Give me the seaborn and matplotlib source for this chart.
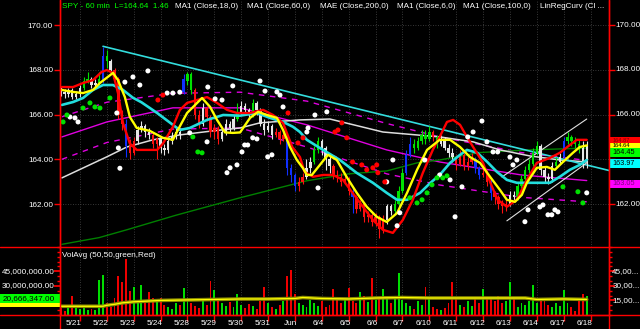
import numpy as np
import pandas as pd
import matplotlib
matplotlib.use("Agg")
import matplotlib.pyplot as plt
import seaborn as sns
from matplotlib.lines import Line2D
from matplotlib.patches import Rectangle
from matplotlib.ticker import MultipleLocator
from matplotlib.transforms import blended_transform_factory

# ---------------- data ----------------
day_labels = ["5/21", "5/22", "5/23", "5/24", "5/28", "5/29", "5/30", "5/31", "Jun", "6/4",
              "6/5", "6/6", "6/7", "6/10", "6/11", "6/12", "6/13", "6/14", "6/17", "6/18"]
day_starts = [5, 12, 19, 26, 33, 40, 47, 54, 61, 68, 75, 82, 89, 96, 103, 110, 117, 124, 131, 138]

open_ = [167.1,167.0,166.9,167.1,166.8,166.9,167.2,167.5,167.6,167.3,
 167.4,167.5,168.6,168.4,168.0,167.6,166.0,165.6,164.6,164.3,
 164.8,165.3,165.5,165.2,165.1,164.7,164.9,164.5,164.4,164.8,
 165.0,165.2,167.0,167.5,167.8,167.1,166.0,165.6,166.3,165.9,
 165.2,165.4,164.9,165.2,165.6,165.4,165.8,166.1,166.4,166.2,
 166.0,166.5,166.2,165.6,165.3,165.5,165.1,165.2,164.9,165.0,
 163.6,163.3,162.8,163.0,163.2,163.6,163.9,164.4,164.8,164.5,
 164.0,163.7,163.3,163.2,163.0,163.1,162.6,162.3,161.8,162.0,
 161.4,161.5,161.2,161.4,160.9,161.3,161.9,161.7,162.0,162.6,
 163.4,164.2,164.7,164.5,164.8,165.1,164.9,165.2,165.0,164.7,
 164.9,164.5,164.3,164.1,163.8,164.2,163.7,163.9,164.0,163.6,
 163.3,163.4,163.0,162.5,162.3,162.0,161.9,162.0,162.4,162.3,
 162.8,163.1,163.5,163.8,164.3,164.6,163.5,163.2,163.1,163.7,
 163.9,164.1,164.8,165.0,164.8,164.7,164.5,163.9]
high = [167.25,167.15,167.2,167.2,167.05,167.3,167.7,167.9,167.7,167.6,
 167.9,169.0,168.9,168.5,168.1,167.7,166.2,165.8,164.9,165.0,
 165.5,165.7,165.6,165.4,165.2,165.0,165.0,164.7,164.9,165.2,
 165.4,165.4,167.8,167.9,167.9,167.2,166.2,166.5,166.4,166.0,
 165.6,165.5,165.4,165.8,165.7,166.0,166.5,166.6,166.5,166.3,
 166.7,166.6,166.3,165.8,165.7,165.6,165.4,165.3,165.2,165.1,
 163.8,163.4,163.2,163.4,164.0,164.1,164.6,165.0,164.9,164.6,
 164.2,163.8,163.5,163.4,163.3,163.2,162.7,162.4,162.2,162.1,
 161.7,161.6,161.6,161.5,161.5,162.0,162.0,162.2,162.8,163.6,
 164.4,165.0,164.9,165.0,165.3,165.3,165.5,165.3,165.1,165.1,
 165.0,164.7,164.5,164.2,164.4,164.3,164.1,164.3,164.1,163.7,
 163.8,163.5,163.1,162.6,162.4,162.2,162.2,162.6,162.6,163.0,
 163.3,163.7,164.0,164.5,164.8,164.7,163.7,163.4,163.9,164.1,
 164.3,165.0,165.2,165.1,165.0,164.9,164.8,164.8]
low = [166.85,166.75,166.8,166.7,166.7,166.8,167.1,167.4,167.2,167.2,
 167.3,167.4,168.1,167.8,167.4,165.8,165.3,164.1,164.0,164.2,
 164.7,165.2,165.0,164.9,164.5,164.0,164.3,164.2,164.3,164.7,
 164.9,164.9,166.9,167.3,166.9,165.8,165.4,165.5,165.7,165.0,
 164.9,164.7,164.8,165.1,165.2,165.3,165.7,166.0,166.0,165.8,
 165.9,166.0,165.5,165.1,165.2,164.9,165.0,164.7,164.8,163.3,
 163.0,162.6,162.6,162.9,163.1,163.4,163.8,164.3,164.2,163.5,
 163.4,163.1,163.0,162.8,162.9,162.4,161.6,161.6,161.7,161.2,
 161.2,161.0,161.0,160.5,160.7,161.1,161.5,161.6,161.9,162.5,
 163.3,164.1,164.3,164.4,164.7,164.7,164.8,164.8,164.5,164.6,
 164.4,164.1,163.9,163.5,163.7,163.5,163.5,163.8,163.4,163.1,
 163.2,162.8,162.2,162.0,161.8,161.6,161.7,161.9,162.1,162.2,
 162.7,163.0,163.4,163.7,164.2,163.3,163.0,162.9,163.0,163.6,
 163.8,164.0,164.7,164.6,164.5,164.3,163.6,163.6]
close = [167.0,166.9,167.1,166.8,166.9,167.2,167.5,167.6,167.3,167.4,
 167.6,168.6,168.4,168.0,167.6,166.0,165.6,164.6,164.3,164.8,
 165.3,165.5,165.2,165.1,164.7,164.9,164.5,164.4,164.8,165.0,
 165.2,165.1,167.6,167.8,167.1,166.0,165.6,166.3,165.9,165.2,
 165.4,164.9,165.2,165.6,165.4,165.8,166.1,166.4,166.2,166.0,
 166.5,166.2,165.6,165.3,165.5,165.1,165.2,164.9,165.1,163.6,
 163.3,162.8,163.0,163.2,163.6,163.9,164.4,164.8,164.5,164.0,
 163.7,163.3,163.2,163.0,163.1,162.6,162.3,161.8,162.0,161.4,
 161.5,161.2,161.4,160.9,161.3,161.9,161.7,162.0,162.6,163.4,
 164.2,164.7,164.5,164.8,165.1,164.9,165.2,165.0,164.7,164.9,
 164.5,164.3,164.1,163.8,164.2,163.7,163.9,164.0,163.6,163.3,
 163.4,163.0,162.5,162.3,162.0,161.9,162.0,162.4,162.3,162.8,
 163.1,163.5,163.8,164.3,164.6,163.5,163.2,163.1,163.7,163.9,
 164.1,164.8,165.0,164.8,164.7,164.5,163.9,164.64]
bar_colors = ("wwwwwwggww" "gbgwrrrbrr" "wwwwrrwwww" "wwbggrrwrr" "rrwwwwgwww"
              "gwwwwwrrrb" "bbrrwwggww" "wrrrrrbrrr" "rrrrrwwggg" "bbgggggrgw"
              "wwwrrrrrbb" "rrbrrrrwwg" "gggggwwwwg" "wbggggww")
volume_m = [7,4,8,20,9,6,8,5,6,5, 36,41,12,8,18,40,34,58,25,29,
 15,31,12,24,17,14,17,10,8,6, 12,10,28,18,12,9,7,14,10,35,
 26,14,12,9,13,8,22,10,7,11, 9,6,14,29,12,8,6,10,14,40,
 46,22,12,10,8,15,12,9,14,8, 10,27,16,12,18,28,14,12,24,20,
 13,38,15,18,27,16,12,20,43,15, 12,9,6,14,10,29,16,8,6,5,
 7,12,34,18,10,8,14,9,16,12, 27,16,18,14,20,12,14,34,18,8,
 12,10,14,31,12,16,14,10,8,12, 9,26,12,8,4,15,22,20]

volavg_x = [0,11,12,14,16,19,26,33,40,47,54,61,63,68,75,82,89,96,103,110,117,121,124,131,137]
volavg_m = [9,9,10,11,12.5,13.6,15,15.5,16,16.5,16.5,17,18,17,16.5,17.5,18,17.5,17.5,17.5,17.5,17.5,16,16.5,16]

ma6_x = [0.3,3.2,5.8,8.4,10.2,13.6,14.9,16.7,18,19.8,23.2,26.6,29.2,30.5,32.9,36.8,38.9,40.7,42.8,44.8,
         46.7,49.3,51.4,53.7,56.3,57.9,59.7,61.5,63.1,64.1,65.4,67.5,69.6,71.9,74.5,77.1,79.7,82.3,84.9,87.6,
         90.2,92.8,95.4,98.7,101.4,104,106.6,109.2,111.9,114.4,116.2,118.3,120.1,121.4,124,126.6,128.7,130.8,133.4,135.2,137]
ma6_y = [167.10,167.01,166.96,167.10,167.41,167.86,167.54,166.78,165.89,165.40,165.27,164.96,164.87,165.31,166.07,
         166.74,166.34,165.76,165.20,165.18,165.20,165.85,166.12,165.98,165.85,165.31,164.55,163.97,163.60,163.30,
         163.30,163.75,164.20,163.97,163.20,162.50,161.88,161.43,161.20,161.60,162.50,163.53,164.42,164.87,164.87,
         164.55,164.10,163.84,163.20,162.63,162.19,162.10,162.41,162.95,163.62,163.66,163.53,163.88,164.29,164.55,164.62]

linreg_x = [0.3,3.2,5.8,8.4,10.6,12,13.6,14.9,16.2,18,19.8,23.2,25.1,26.6,29.2,31,32.9,35.5,38.1,40.7,
            43.3,45.9,49.3,52.7,55.3,57.9,60.3,62.3,63.5,65.7,68.3,70.9,73.5,76,78.7,81.3,83.9,86.5,89.1,91.7,
            94.3,96.9,98.7,100.6,102.2,104,105.8,107.4,110,111.9,113.8,116.2,118.8,121.4,124,127.4,130,132.6,134.4,137]
linreg_y = [167.23,167.23,167.41,167.54,167.90,167.99,167.86,166.96,165.62,164.70,164.42,164.42,164.42,164.70,165.45,
            166.20,166.52,166.65,166.78,166.52,166.21,166.07,166.07,166.21,165.98,165.62,164.55,164.10,163.44,163.22,
            163.30,163.30,163.08,162.50,161.88,161.29,160.85,160.71,161.29,162.19,163.39,164.42,165.00,165.67,165.76,
            165.54,165.00,164.55,163.84,162.95,162.19,161.88,162.19,163.08,163.84,164.06,164.29,164.64,164.87,164.87]

ma18_x = [0.3,3.2,5.8,8.4,11,13.6,16.2,18.8,21,25.1,29.2,31,33.6,38.1,42.3,46.7,51.1,54.5,57.9,60.5,
          62.3,64.1,68.3,72.7,77.1,81.3,84.9,87.6,90.2,93.6,96.3,98.7,101.4,104,105.8,108.5,111.1,113.6,116.2,118.8,
          123,127.4,130,132.6,135.2,137]
ma18_y = [166.43,166.56,166.74,167.10,167.32,167.32,167.10,166.75,166.55,166.07,165.54,165.31,165.40,165.76,165.98,
          165.95,166.07,165.85,165.67,165.45,165.22,164.87,164.42,163.97,163.39,162.95,162.50,162.19,162.19,162.50,
          162.95,163.30,163.84,164.20,164.42,164.29,163.88,163.44,163.08,162.95,162.95,162.95,163.22,163.53,163.75,163.97]

ma60_x = [0.3,12,17.2,24,31,39.6,46.7,51.9,62.3,70.1,83.9,98.7,107.4,114.4,122.2,130,137]
ma60_y = [163.17,164.11,164.55,164.87,165.09,165.27,165.40,165.63,165.76,165.80,165.22,165.00,164.78,164.42,164.15,163.97,163.88]

ma100_x = [0.3,10,17.2,30,46.7,64.1,75,84.9,92.8,98.7,109,122,137]
ma100_y = [160.20,160.50,160.85,161.50,162.28,163.04,163.35,163.48,163.84,163.97,164.30,164.42,164.50]

mae_x = [0.3,12,29.2,46.7,64.1,84.9,98.7,120,137]
mae_mid = [165.00,165.67,166.30,166.30,165.54,164.42,163.88,163.30,163.05]
mae_up = [165.90,166.55,166.95,167.00,166.60,165.60,165.00,164.30,163.95]
mae_dn = [164.00,164.75,165.35,165.40,164.55,163.35,162.85,162.30,162.10]

trend_x = [11, 142.8]
trend_y = [169.05, 163.50]
chan_up_x = [114.9, 137]
chan_up_y = [163.21, 165.80]
chan_dn_x = [116.2, 137]
chan_dn_y = [161.25, 163.84]

wdot_x = [2.4,3.7,4.5,14.6,15.0,15.4,16.7,18.8,20.6,22.7,27.7,29.2,31,33.6,38.1,38.3,40.2,42,43.3,44.1,
          44.8,45.9,47.2,47.9,48.7,50,51.1,51.9,53.2,53.9,55,56.3,57.1,57.9,64.1,64.4,66.2,67,69.3,84.9,
          86.5,87.6,88.3,94.8,98.7,101.4,102.7,104.5,106,107.4,109.7,111,112.6,113.8,117,117.8,118.8,120.9,121.7,124.8,
          125.6,126.9,127.9,128.7,129.5,137]
wdot_y = [165.89,165.85,165.67,166.07,164.51,163.60,167.45,167.68,167.32,167.95,166.96,166.96,167.0,165.18,164.78,
          167.23,166.70,166.65,163.40,163.62,167.28,163.75,164.33,164.64,164.64,164.96,164.91,167.50,167.05,164.11,
          164.20,167.01,166.87,166.34,165.22,165.40,165.98,162.72,166.12,162.99,163.97,161.03,161.61,163.97,163.30,
          163.08,161.43,162.77,165.00,165.22,165.71,164.78,164.33,164.33,164.10,163.75,163.97,161.21,161.74,161.87,
          161.96,161.52,161.52,161.74,161.65,162.50]
gdot_x = [0.6,1.6,5.8,7.6,8.9,10.2,12.8,34.4,35.7,36.8,90.9,92.8,94.1,95.4,96.7,98,99.5,100.6,130.8,134.7,136]
gdot_y = [165.67,165.98,166.29,166.52,166.34,166.29,166.74,165.0,164.33,164.29,162.28,162.05,162.19,162.50,162.86,
          163.17,163.17,163.26,162.77,162.55,162.05]
rdot_x = [25.3,26.6,59.2,61.8,63.1,71.4,72.2,73.2,74.5,76,78.4,79.7,81.3,82.3,82.6,84.4]
rdot_y = [166.65,166.87,166.07,164.73,164.96,165.22,165.31,165.63,164.96,163.88,163.75,163.53,163.62,163.75,163.40,162.99]

price_ticks = [162, 164, 166, 168, 170]
right_price_labels = [162, 166, 168, 170]   # 164.00 is hidden under the value tags
vol_ticks_m = [15, 30, 45]
# current-value tags at the right edge: (tag centre, box height, fill, text, text colour, font size)
value_boxes = [(164.86, 0.26, "#ff0000", "164.87", "#800000", 4.1),
               (164.60, 0.26, "#ffff00", "164.64", "#000000", 4.1),
               (164.31, 0.38, "#00ff00", "164.45", "#000000", 5.2),
               (163.82, 0.38, "#00ffff", "163.97", "#000000", 5.2),
               (162.90, 0.38, "#ff00ff", "163.05", "#800080", 5.3)]

# ---------------- style ----------------
sns.set_theme(style="dark", rc={"axes.facecolor": "black", "figure.facecolor": "black"})
plt.rcParams['font.family'] = ['Liberation Sans', 'DejaVu Sans']
FS = 5.9

W, H = 640, 329
L, R = 60, 609
fig = plt.figure(figsize=(W / 100, H / 100), dpi=100, facecolor="black")
ax = fig.add_axes([L / W, 1 - 247 / H, (R - L) / W, 247 / H], facecolor="black")
axv = fig.add_axes([L / W, 1 - 315 / H, (R - L) / W, 68 / H], facecolor="black", sharex=ax)

n = len(close)
idx = np.arange(n)
df = pd.DataFrame({"i": idx, "o": open_, "h": high, "l": low, "c": close,
                   "col": list(bar_colors), "v": np.array(volume_m) * 1e6})
cmap = {"w": "#e6e6e6", "r": "#ff1010", "g": "#00e000", "b": "#1030ff"}

# grid
for a in (ax, axv):
    for d in day_starts:
        a.axvline(d, color="#4a4a4a", lw=0.6, ls=(0, (1, 2)), zorder=0)
for p in price_ticks:
    ax.axhline(p, color="#4a4a4a", lw=0.6, ls=(0, (1, 2)), zorder=0)


def line(x, y, color, lw, z, dashes=None, a=ax):
    sns.lineplot(x=x, y=y, ax=a, color=color, linewidth=lw, estimator=None, sort=False,
                 legend=False, zorder=z)
    if dashes is not None:
        a.lines[-1].set_dashes(dashes)


# background indicator lines
line(mae_x, mae_mid, "#e000e0", 1.0, 1)
line(mae_x, mae_up, "#e000e0", 1.0, 1, dashes=(4, 4))
line(mae_x, mae_dn, "#e000e0", 1.0, 1, dashes=(4, 4))
line(ma100_x, ma100_y, "#008000", 1.0, 1)
line(ma60_x, ma60_y, "#dddddd", 1.1, 1)
line(trend_x, trend_y, "#33dddd", 1.2, 2)
line(chan_up_x, chan_up_y, "#e0e0e0", 0.8, 2)
line(chan_dn_x, chan_dn_y, "#e0e0e0", 0.8, 2)

# candles
cols = [cmap[c] for c in df["col"]]
ax.vlines(df["i"], df["l"], df["h"], colors=cols, lw=0.8, zorder=3)
body_lo = np.minimum(df["o"], df["c"])
body_h = np.maximum(np.abs(df["c"] - df["o"]), 0.04)
ax.bar(df["i"], body_h, bottom=body_lo, width=0.62, color=cols, linewidth=0, zorder=3)

# foreground indicator lines
line(ma18_x, ma18_y, "#22dddd", 1.9, 4)
line(linreg_x, linreg_y, "#ff0000", 1.7, 4)
line(ma6_x, ma6_y, "#ffff00", 1.7, 5)

# dots
for xs, ys, c in ((wdot_x, wdot_y, "#ffffff"), (gdot_x, gdot_y, "#00e000"), (rdot_x, rdot_y, "#ff0000")):
    sns.scatterplot(x=xs, y=ys, ax=ax, color=c, s=13, edgecolor="none", zorder=6, legend=False)

ax.set_xlim(-0.2, 142.8)
ax.set_ylim(160.08, 171.12)
ax.set_yticks(price_ticks)
ax.set_yticklabels([f"{p:.2f}" for p in price_ticks])
ax.tick_params(axis="y", left=True, right=True, labelleft=True, labelright=False,
               color="#ff0000", labelcolor="white", labelsize=FS, length=4, width=1, pad=1)
ax.tick_params(axis="x", bottom=False, labelbottom=False)
ax.set_xlabel("")
ax.set_ylabel("")
for s in ("top", "bottom"):
    ax.spines[s].set_visible(False)
for s in ("left", "right"):
    ax.spines[s].set_color("#ff0000")
    ax.spines[s].set_linewidth(1)
ax.grid(False)

tr = blended_transform_factory(ax.transAxes, ax.transData)
for p in right_price_labels:
    ax.text(1.012, p, f"{p:.2f}", transform=tr, color="white", fontsize=FS, ha="left", va="center",
            clip_on=False)

# value tags on the right
bw = (W - R) / (R - L)
for k, (yv, hh, fc, txt, tc, fs) in enumerate(value_boxes):
    ax.add_patch(Rectangle((1.0, yv - hh / 2), bw, hh, transform=tr, facecolor=fc,
                           edgecolor="none", clip_on=False, zorder=20 + 2 * k))
    ax.text(1.006, yv, txt, transform=tr, color=tc, fontsize=fs, va="center", ha="left",
            clip_on=False, zorder=21 + 2 * k)

# ---------------- volume panel ----------------
vcols = np.where(df["c"] >= df["o"], "#00dd00", "#ee0000")
axv.bar(df["i"], df["v"], width=0.5, color=vcols, linewidth=0, zorder=2)
va_x = np.array(volavg_x)
va_y = np.array(volavg_m) * 1e6
line(va_x, va_y, "#8a8a00", 2.6, 3, a=axv)
line(va_x, va_y, "#ffff00", 0.9, 4, a=axv)
axv.set_ylim(0, 70e6)
axv.set_yticks([v * 1e6 for v in vol_ticks_m])
axv.set_yticklabels([])
axv.yaxis.set_minor_locator(MultipleLocator(5e6))
axv.tick_params(axis="y", which="both", left=True, right=True, color="#ff0000")
axv.tick_params(axis="y", which="major", length=4)
axv.tick_params(axis="y", which="minor", length=2)
axv.set_xticks(day_starts)
axv.set_xticklabels([])
axv.tick_params(axis="x", bottom=True, color="#ff0000", length=4, width=1)
axv.set_xlabel("")
axv.set_ylabel("")
axv.spines["top"].set_visible(False)
for s in ("left", "right", "bottom"):
    axv.spines[s].set_color("#ff0000")
    axv.spines[s].set_linewidth(1)
axv.grid(False)

trx = blended_transform_factory(axv.transData, axv.transAxes)
for d, lab in zip(day_starts, day_labels):
    axv.text(d + 0.5, -0.12, lab, transform=trx, color="white", fontsize=FS, ha="right", va="center",
             clip_on=False)

trv = blended_transform_factory(axv.transAxes, axv.transData)
for v in (45, 30):
    axv.text(-0.009, v * 1e6, f"{v * 1e6:,.2f}", transform=trv, color="white", fontsize=FS,
             ha="right", va="center", clip_on=False)
for v in vol_ticks_m:
    axv.text(1.006, v * 1e6, f"{v},00...", transform=trv, color="white", fontsize=FS,
             ha="left", va="center", clip_on=False)
lw_box = L / (R - L)
axv.add_patch(Rectangle((-lw_box, 8.5e6), lw_box, 4.5e6, transform=trv, facecolor="#ffff00",
                        edgecolor="none", clip_on=False, zorder=10))
axv.add_patch(Rectangle((-lw_box, 12.5e6), lw_box, 9.5e6, transform=trv, facecolor="#00ff00",
                        edgecolor="none", clip_on=False, zorder=11))
axv.text(-0.009, 17.2e6, "20,666,347.00", transform=trv, color="black", fontsize=FS,
         ha="right", va="center", clip_on=False, zorder=12)
axv.text(0.004, 0.88, "VolAvg (50,50,green,Red)", transform=axv.transAxes, color="white",
         fontsize=FS, ha="left", va="center")

# ---------------- header ----------------
def px(x, y):
    return x / W, 1 - y / H


fig.text(*px(62, 7), "SPY - 60 min  L=164.64  1.46", color="#00ff00", fontsize=FS, va="center")
for xp, t in ((175, "MA1 (Close,18,0)"), (247, "MA1 (Close,60,0)"), (320, "MAE (Close,200,0)"),
              (397, "MA1 (Close,6,0)"), (463, "MA1 (Close,100,0)"), (540, "LinRegCurv (Cl ...")):
    fig.text(*px(xp, 7), t, color="white", fontsize=FS, va="center")

# frame lines across the whole figure
for yy in (247, 315):
    fig.add_artist(Line2D([0, 1], [1 - yy / H] * 2, transform=fig.transFigure, color="#ff0000", lw=1))
for xx in (L, R):
    fig.add_artist(Line2D([xx / W] * 2, [0, 1], transform=fig.transFigure, color="#ff0000", lw=1))

fig.savefig("out.png", dpi=100, facecolor="black")
